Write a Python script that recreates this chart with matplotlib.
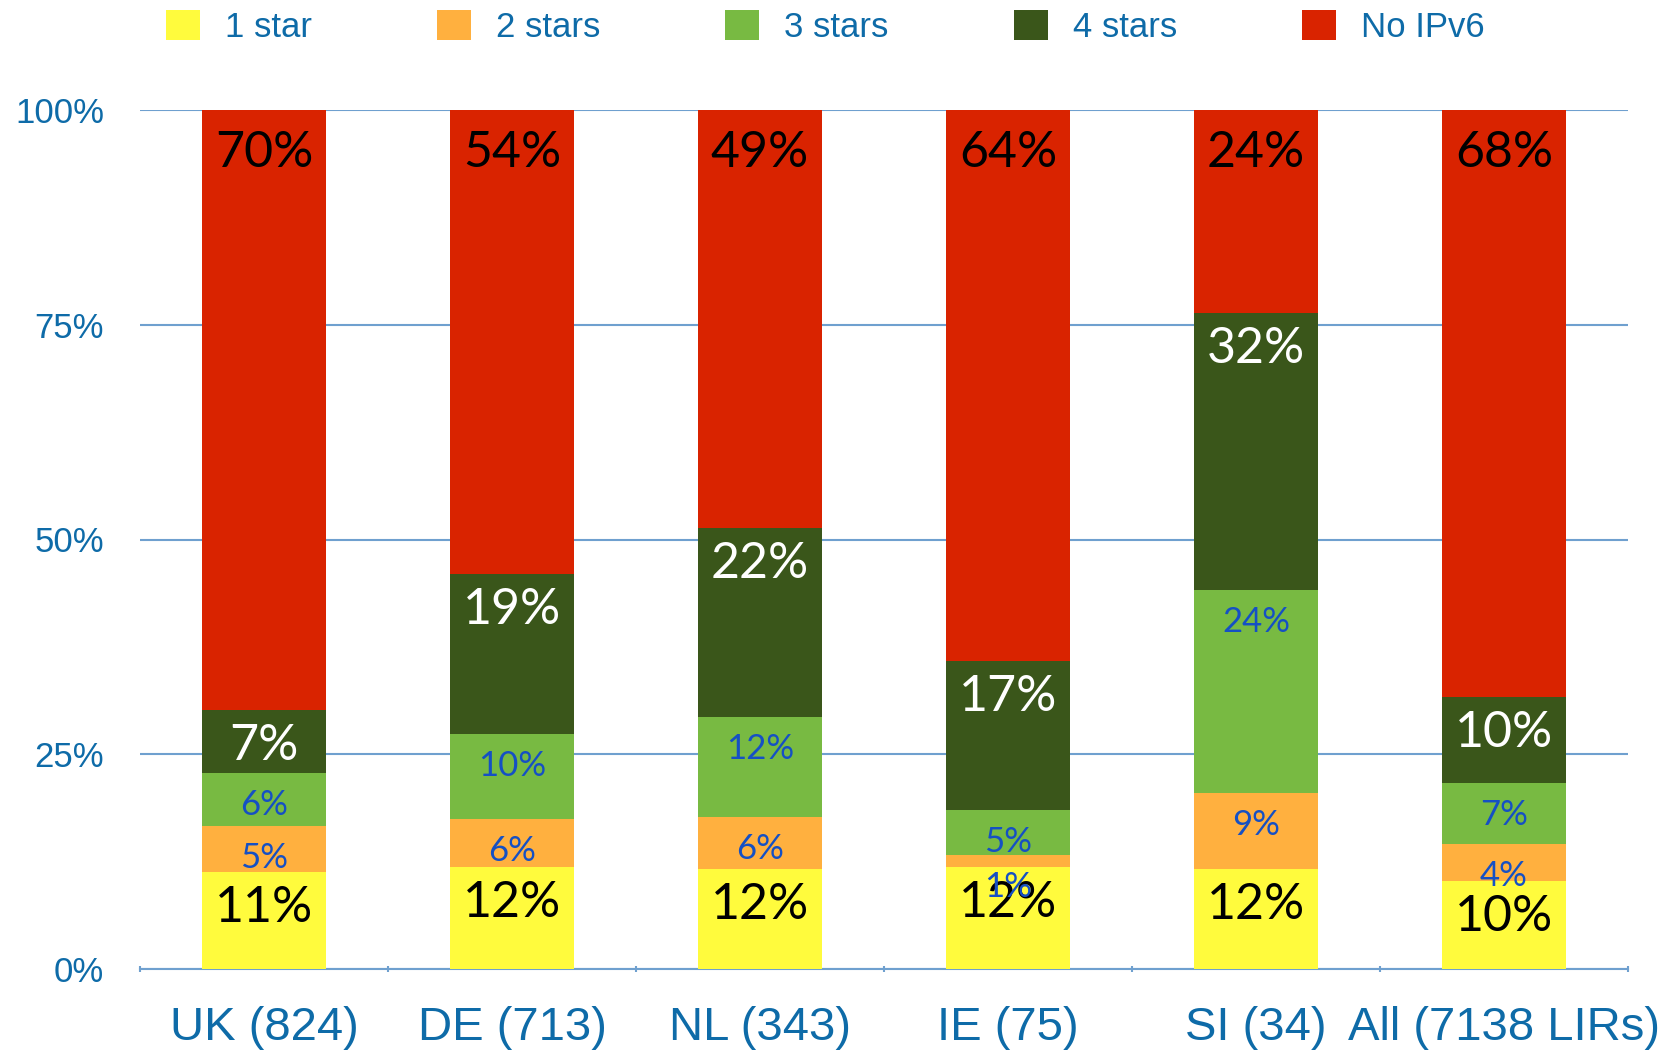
import matplotlib
matplotlib.use("Agg")
import matplotlib.pyplot as plt
import numpy as np

categories = ["UK (824)", "DE (713)", "NL (343)", "IE (75)", "SI (34)", "All (7138 LIRs)"]
series_names = ["1 star", "2 stars", "3 stars", "4 stars", "No IPv6"]
one_star   = [11.3, 11.9, 11.6, 11.9, 11.6, 10.2]
two_stars  = [5.3, 5.6, 6.1, 1.4, 8.9, 4.4]
three_stars = [6.2, 9.9, 11.6, 5.2, 23.6, 7.1]
four_stars = [7.4, 18.6, 22.0, 17.4, 32.3, 10.0]
no_ipv6    = [69.8, 54.0, 48.7, 64.1, 23.6, 68.3]
y_ticks = [0, 25, 50, 75, 100]
y_tick_labels = ["0%", "25%", "50%", "75%", "100%"]

series = [one_star, two_stars, three_stars, four_stars, no_ipv6]
colors = ["#FFFB3D", "#FFB03F", "#78BA42", "#3A561A", "#D92300"]
label_colors = ["black", "#1550C4", "#1550C4", "white", "black"]
label_sizes = [36, 25, 25, 36, 36]
label_offsets = [-26, -23, -23, -26, -31]

axis_color = "#0E6BA8"
grid_color = "#6FA0CF"

fig = plt.figure(figsize=(16.78, 10.56), dpi=100)
ax = fig.add_axes([140/1678, 1-969/1056, (1628-140)/1678, (969-110)/1056])

x = np.arange(len(categories))
bottom = np.zeros(len(categories))
handles = []
for vals, col, lc, ls, lo, name in zip(series, colors, label_colors, label_sizes, label_offsets, series_names):
    vals = np.array(vals)
    bars = ax.bar(x, vals, width=0.5, bottom=bottom, color=col, zorder=3, label=name)
    handles.append(bars)
    for xi, b, v in zip(x, bottom, vals):
        ax.annotate(f"{v:.0f}%", xy=(xi, b + v), xytext=(0, lo), textcoords="offset points",
                    ha="center", va="center", fontsize=ls, color=lc, family="Lato", zorder=5)
    bottom = bottom + vals

ax.set_xlim(-0.5, len(categories) - 0.5)
ax.set_ylim(0, 100)
ax.set_yticks(y_ticks)
ax.set_yticklabels(y_tick_labels)
ax.yaxis.grid(True, color=grid_color, linewidth=1.5, zorder=0)
ax.set_xticks(x)
ax.set_xticklabels(categories)
ax.set_xticks(np.arange(-0.5, len(categories)), minor=True)
ax.tick_params(axis="x", which="major", length=0, pad=27, labelsize=34, labelcolor=axis_color)
ax.tick_params(axis="x", which="minor", length=5, direction="inout", color=grid_color, width=1.5)
ax.tick_params(axis="y", length=0, pad=26, labelsize=25, labelcolor=axis_color)
for lab in ax.get_xticklabels() + ax.get_yticklabels():
    lab.set_family("Liberation Sans")
for s in ["left", "right", "top"]:
    ax.spines[s].set_visible(False)
ax.spines["bottom"].set_color(grid_color)
ax.spines["bottom"].set_linewidth(1.5)

leg = fig.legend(handles=handles, labels=series_names, ncol=5, loc="center left",
                 bbox_to_anchor=(166/1678, 1 - 27/1056), frameon=False,
                 prop={"family": "Liberation Sans", "size": 25},
                 handlelength=0.98, handleheight=0.95, handletextpad=0.72,
                 columnspacing=3.6, borderaxespad=0, borderpad=0)
for t in leg.get_texts():
    t.set_color(axis_color)

fig.savefig("out.png", dpi=100)
